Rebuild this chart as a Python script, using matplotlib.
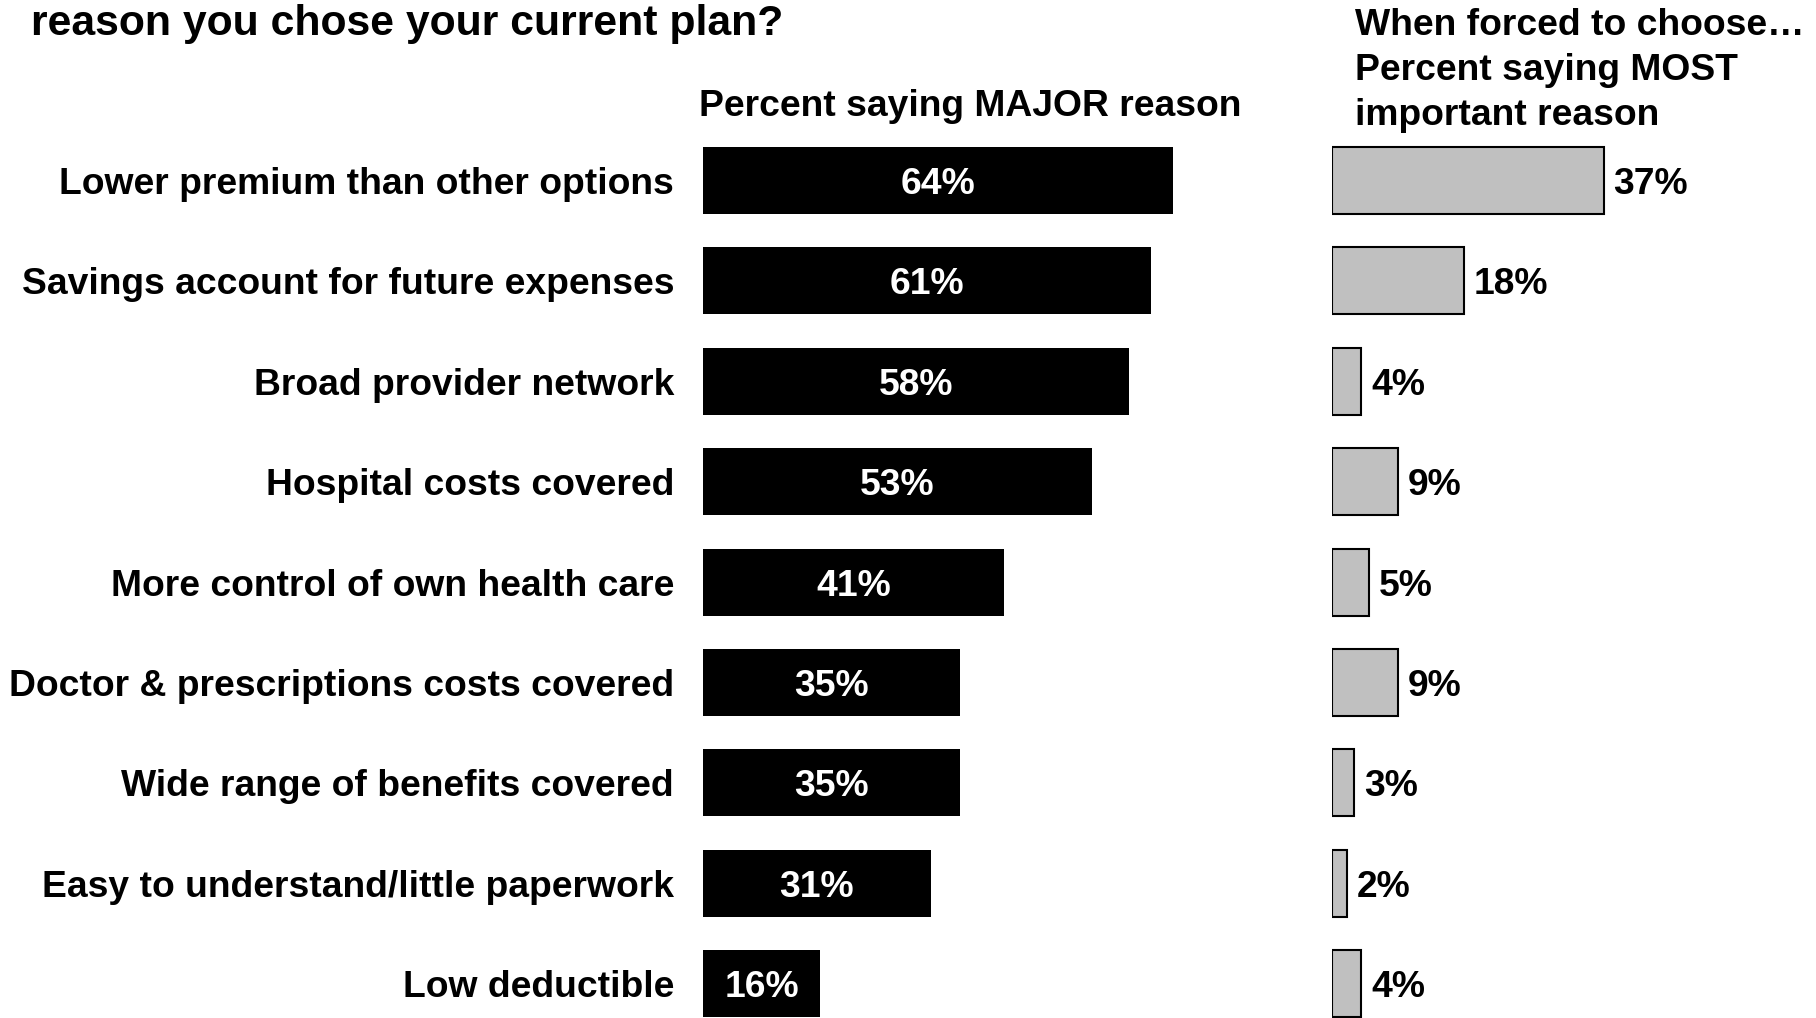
import numpy as np
import matplotlib.pyplot as plt

plt.rcParams['font.family'] = ['Liberation Sans', 'DejaVu Sans']
plt.rcParams['font.weight'] = 'bold'

reasons = ['Lower premium than other options',
           'Savings account for future expenses',
           'Broad provider network',
           'Hospital costs covered',
           'More control of own health care',
           'Doctor & prescriptions costs covered',
           'Wide range of benefits covered',
           'Easy to understand/little paperwork',
           'Low deductible']
major = [64, 61, 58, 53, 41, 35, 35, 31, 16]
most = [37, 18, 4, 9, 5, 9, 3, 2, 4]
right_head = ['When forced to choose\u2026',
              'Percent saying MOST',
              'important reason']

W, H = 1816, 1018
fig = plt.figure(figsize=(W / 100, H / 100), dpi=100)

# pixel layout: bar rows 100.4 px apart, first row centred at y=180.5
row = 100.4
y0 = 180.5
ylim = (H - y0) / row, -y0 / row
ppu = 7.34  # pixels per percentage point

axL = fig.add_axes([703 / W, 0, 620 / W, 1])
axR = fig.add_axes([1332 / W, 0, 484 / W, 1])
for ax, span in [(axL, 620), (axR, 484)]:
    ax.set_xlim(0, span / ppu)
    ax.set_ylim(*ylim)
    ax.axis('off')

y = np.arange(len(reasons))
fs = 26.8
base = 13.5 / row  # baseline sits half a cap height below the bar centre

axL.barh(y, major, height=0.667, color='black')
for yi, v, lab in zip(y, major, reasons):
    axL.text(v / 2, yi + base, f'{v}%', color='white', fontsize=fs,
             ha='center', va='baseline', fontweight='bold')
    axL.text(-29 / ppu, yi + base, lab, fontsize=fs, ha='right',
             va='baseline', fontweight='bold')

axR.barh(y, most, height=0.667, color='#c0c0c0', edgecolor='black',
         linewidth=1.5)
for yi, v in zip(y, most):
    axR.text(v + 10 / ppu, yi + base, f'{v}%', fontsize=fs, ha='left',
             va='baseline', fontweight='bold')

# headings
fig.text(31 / W, 1 - 35 / H, 'reason you chose your current plan?',
         fontsize=30.8, fontweight='bold', va='baseline')
fig.text(970 / W, 1 - 116 / H, 'Percent saying MAJOR reason',
         fontsize=fs, fontweight='bold', ha='center', va='baseline')
for i, line in enumerate(right_head):
    fig.text(1355 / W, 1 - (35 + 45 * i) / H, line,
             fontsize=fs, fontweight='bold', ha='left', va='baseline')

fig.savefig('out.png', dpi=100)
